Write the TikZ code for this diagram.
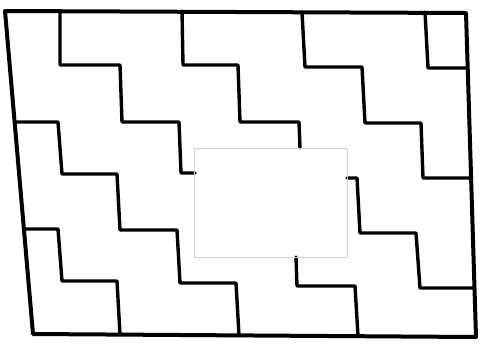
\documentclass[tikz,border=0pt]{standalone}
\tikzset{
  frame/.style={line width=4pt, line join=round},
  stair/.style={line width=3.4pt, line join=round, line cap=round},
  hole/.style={line width=0.8pt, draw={rgb,255:red,200;green,214;blue,214}}
}
\begin{document}
\begin{tikzpicture}[x=1pt,y=-1pt]
        \useasboundingbox (0,0) rectangle (484,343);

        % outer frame
        \draw [frame] (5,11) -- (466,13) -- (476,337) -- (33,334) -- cycle;

        % stairs from the top edge
        \draw [stair] (60,11) -- (60,65) -- (120,65) -- (122,122) -- (179,122) -- (181,173) -- (195,173);
        \draw [stair] (182,11) -- (183,65) -- (238,65) -- (240,122) -- (299,122) -- (300,148);
        \draw [stair] (302,12) -- (305,67) -- (362,67) -- (365,123) -- (421,123) -- (423,178) -- (471,178);
        \draw [stair] (425,12) -- (428,68) -- (467.7,68);

        % stairs from the left edge
        \draw [stair] (14.6,122) -- (58,122) -- (62,174) -- (117,174) -- (120,230) -- (177,230) -- (180,283) -- (236,283) -- (239,335.4);
        \draw [stair] (24,229) -- (58,229) -- (62,281) -- (117,281) -- (120,334.6);

        % stairs leaving the hole
        \draw [stair] (296,257) -- (297,286) -- (355,286) -- (358,336.2);
        \draw [stair] (347,178) -- (357,178) -- (360,233) -- (416,233) -- (420,288) -- (474.5,288);

        % hole
        \draw [hole] (194,148) rectangle (347,257);
\end{tikzpicture}
\end{document}
